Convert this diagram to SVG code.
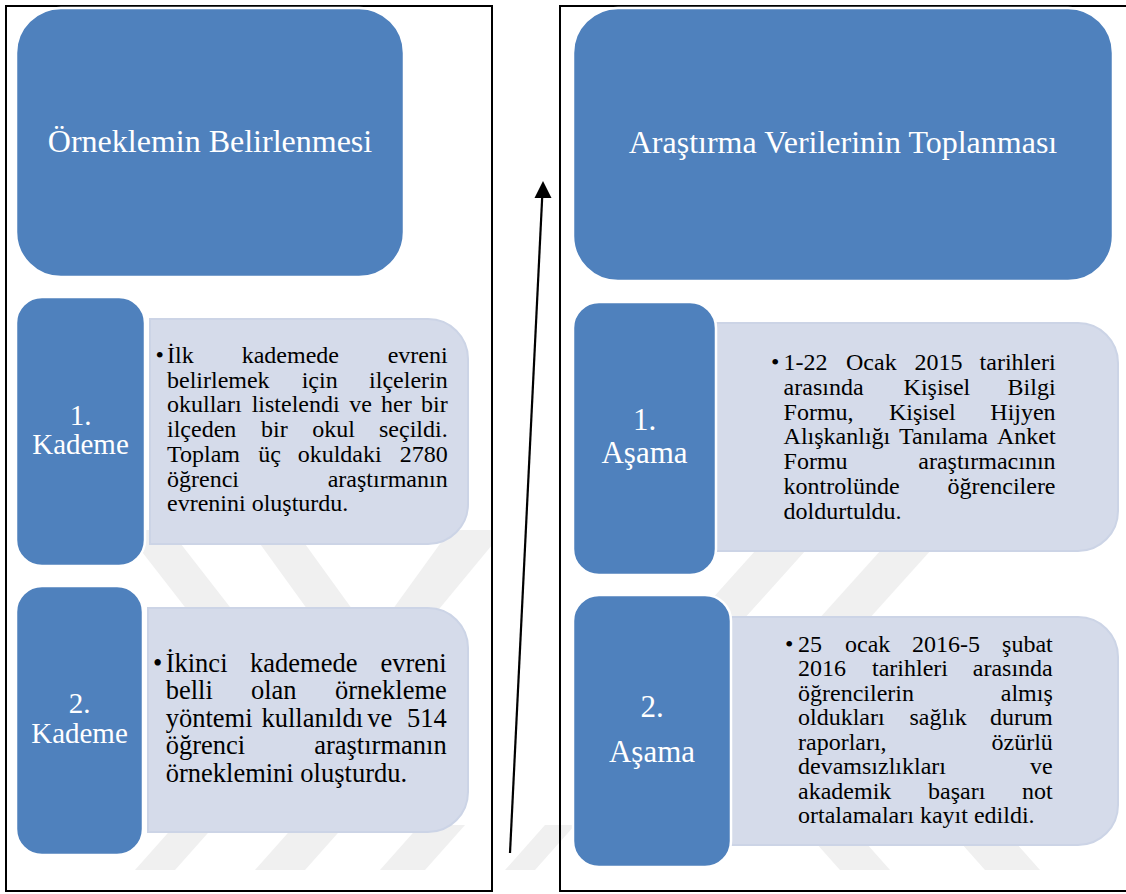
<svg xmlns="http://www.w3.org/2000/svg" width="1126" height="894" viewBox="0 0 1126 894">
<defs>
<style>
.frame{fill:none;stroke:#000;stroke-width:2}
.wm{fill:#F0F0F0}
.blue{fill:#4F81BD;stroke:#fff;stroke-width:2.5}
.light{fill:#D5DBEA;stroke:#CCD4E6;stroke-width:2}
.hd{font-family:"Liberation Serif","Times New Roman",serif;fill:#fff;text-anchor:middle}
.bt{font-family:"Liberation Serif","Times New Roman",serif;fill:#000;font-size:24px}
.bt2{font-family:"Liberation Serif","Times New Roman",serif;fill:#000;font-size:26.5px}
.conn{stroke:#000;stroke-width:2.2;fill:none}
.head{fill:#000}
</style>
</defs>
<rect width="1126" height="894" fill="#fff"/>
<g id="watermark">
<polygon class="wm" points="125,530 170,530 240,620 195,620"/>
<polygon class="wm" points="250,530 295,530 360,620 315,620"/>
<polygon class="wm" points="450,530 492,530 492,545 430,620 385,620"/>
<polygon class="wm" points="765,540 815,540 743,620 693,620"/>
<polygon class="wm" points="890,540 940,540 868,620 818,620"/>
<polygon class="wm" points="175,825 215,825 175,870 135,870"/>
<polygon class="wm" points="295,825 345,825 305,870 255,870"/>
<polygon class="wm" points="420,825 465,825 425,870 380,870"/>
<polygon class="wm" points="545,825 575,825 535,870 505,870"/>
<polygon class="wm" points="800,825 850,825 890,870 840,870"/>
<polygon class="wm" points="945,825 1000,825 1040,870 985,870"/>
</g>
<g id="frames">
<rect class="frame" x="6" y="6" width="486" height="885"/>
<polyline class="frame" points="1127,6 560,6 560,891 1127,891"/>
</g>
<g id="node-left-header">
<rect class="blue" x="16" y="8" width="388" height="269" rx="45" ry="45"/>
<text class="hd" x="210" y="152" font-size="32">Örneklemin Belirlenmesi</text>
</g>
<g id="node-left-1-text">
<path class="light" d="M150,319 H428 A40,40 0 0 1 468,359 V504 A40,40 0 0 1 428,544 H150 Z"/>
<text class="bt"><tspan x="155.5" y="363">•</tspan><tspan x="167" y="363">İlk</tspan><tspan x="241.7" y="363">kademede</tspan><tspan x="387.7" y="363">evreni</tspan></text>
<text class="bt"><tspan x="167" y="387.7">belirlemek</tspan><tspan x="301.7" y="387.7">için</tspan><tspan x="369.1" y="387.7">ilçelerin</tspan></text>
<text class="bt"><tspan x="167" y="412.4">okulları</tspan><tspan x="251.7" y="412.4">listelendi</tspan><tspan x="349.3" y="412.4">ve</tspan><tspan x="381" y="412.4">her</tspan><tspan x="421" y="412.4">bir</tspan></text>
<text class="bt"><tspan x="167" y="437.1">ilçeden</tspan><tspan x="261" y="437.1">bir</tspan><tspan x="312.3" y="437.1">okul</tspan><tspan x="379" y="437.1">seçildi.</tspan></text>
<text class="bt"><tspan x="167" y="461.8">Toplam</tspan><tspan x="258.3" y="461.8">üç</tspan><tspan x="297.7" y="461.8">okuldaki</tspan><tspan x="399.7" y="461.8">2780</tspan></text>
<text class="bt"><tspan x="167" y="486.5">öğrenci</tspan><tspan x="327.7" y="486.5">araştırmanın</tspan></text>
<text class="bt" x="167" y="511.2">evrenini oluşturdu.</text>
</g>
<g id="node-left-1">
<rect class="blue" x="16" y="297" width="129" height="269" rx="26" ry="26"/>
<text class="hd" font-size="29"><tspan x="80.5" y="425">1.</tspan><tspan x="80.5" y="454">Kademe</tspan></text>
</g>
<g id="node-left-2-text">
<path class="light" d="M148,608 H428 A40,40 0 0 1 468,648 V792 A40,40 0 0 1 428,832 H148 Z"/>
<text class="bt2"><tspan x="153" y="671.7">•</tspan><tspan x="165.7" y="671.7">İkinci</tspan><tspan x="250" y="671.7">kademede</tspan><tspan x="380.5" y="671.7">evreni</tspan></text>
<text class="bt2"><tspan x="165.7" y="699.2">belli</tspan><tspan x="251" y="699.2">olan</tspan><tspan x="335" y="699.2">örnekleme</tspan></text>
<text class="bt2"><tspan x="165.7" y="726.7">yöntemi</tspan><tspan x="261.5" y="726.7">kullanıldı</tspan><tspan x="367.2" y="726.7">ve</tspan><tspan x="407" y="726.7">514</tspan></text>
<text class="bt2"><tspan x="165.7" y="754.2">öğrenci</tspan><tspan x="314.2" y="754.2">araştırmanın</tspan></text>
<text class="bt2" x="165.7" y="781.7">örneklemini oluşturdu.</text>
</g>
<g id="node-left-2">
<rect class="blue" x="16" y="586" width="127" height="269" rx="26" ry="26"/>
<text class="hd" font-size="29"><tspan x="79.5" y="713">2.</tspan><tspan x="79.5" y="743">Kademe</tspan></text>
</g>
<g id="node-right-header">
<rect class="blue" x="573" y="8" width="540" height="273" rx="45" ry="45"/>
<text class="hd" x="843" y="153" font-size="32">Araştırma Verilerinin Toplanması</text>
</g>
<g id="node-right-1-text">
<path class="light" d="M714,323 H1078 A40,40 0 0 1 1118,363 V511 A40,40 0 0 1 1078,551 H714 Z"/>
<text class="bt"><tspan x="771" y="370">•</tspan><tspan x="783.6" y="370">1-22</tspan><tspan x="846" y="370">Ocak</tspan><tspan x="914.5" y="370">2015</tspan><tspan x="979.6" y="370">tarihleri</tspan></text>
<text class="bt"><tspan x="783.6" y="394.8">arasında</tspan><tspan x="903.6" y="394.8">Kişisel</tspan><tspan x="1007.6" y="394.8">Bilgi</tspan></text>
<text class="bt"><tspan x="783.6" y="419.6">Formu,</tspan><tspan x="889" y="419.6">Kişisel</tspan><tspan x="990.3" y="419.6">Hijyen</tspan></text>
<text class="bt"><tspan x="783.6" y="444.4">Alışkanlığı</tspan><tspan x="899" y="444.4">Tanılama</tspan><tspan x="996.9" y="444.4">Anket</tspan></text>
<text class="bt"><tspan x="783.6" y="469.2">Formu</tspan><tspan x="918.3" y="469.2">araştırmacının</tspan></text>
<text class="bt"><tspan x="783.6" y="494">kontrolünde</tspan><tspan x="947.6" y="494">öğrencilere</tspan></text>
<text class="bt" x="783.6" y="518.8">doldurtuldu.</text>
</g>
<g id="node-right-1">
<rect class="blue" x="573" y="302" width="143" height="273" rx="26" ry="26"/>
<text class="hd" font-size="31"><tspan x="644.5" y="430">1.</tspan><tspan x="644.5" y="463">Aşama</tspan></text>
</g>
<g id="node-right-2-text">
<path class="light" d="M730,617 H1078 A40,40 0 0 1 1118,657 V805 A40,40 0 0 1 1078,845 H730 Z"/>
<text class="bt"><tspan x="785" y="651.7">•</tspan><tspan x="798" y="651.7">25</tspan><tspan x="845" y="651.7">ocak</tspan><tspan x="912" y="651.7">2016-5</tspan><tspan x="1002.1" y="651.7">şubat</tspan></text>
<text class="bt"><tspan x="798" y="676.2">2016</tspan><tspan x="872" y="676.2">tarihleri</tspan><tspan x="972.8" y="676.2">arasında</tspan></text>
<text class="bt"><tspan x="798" y="700.7">öğrencilerin</tspan><tspan x="1000.8" y="700.7">almış</tspan></text>
<text class="bt"><tspan x="798" y="725.2">oldukları</tspan><tspan x="909.5" y="725.2">sağlık</tspan><tspan x="990.1" y="725.2">durum</tspan></text>
<text class="bt"><tspan x="798" y="749.7">raporları,</tspan><tspan x="991.5" y="749.7">özürlü</tspan></text>
<text class="bt"><tspan x="798" y="774.2">devamsızlıkları</tspan><tspan x="1030.1" y="774.2">ve</tspan></text>
<text class="bt"><tspan x="798" y="798.7">akademik</tspan><tspan x="928" y="798.7">başarı</tspan><tspan x="1022.1" y="798.7">not</tspan></text>
<text class="bt" x="798" y="823.2">ortalamaları kayıt edildi.</text>
</g>
<g id="node-right-2">
<rect class="blue" x="573" y="595" width="158" height="272" rx="26" ry="26"/>
<text class="hd" font-size="31"><tspan x="652" y="717">2.</tspan><tspan x="652" y="762">Aşama</tspan></text>
</g>
<g id="connectors">
<line class="conn" x1="510" y1="853" x2="542.3" y2="195"/>
<polygon class="head" points="543,181 551.5,198 534.5,198"/>
</g>
</svg>
